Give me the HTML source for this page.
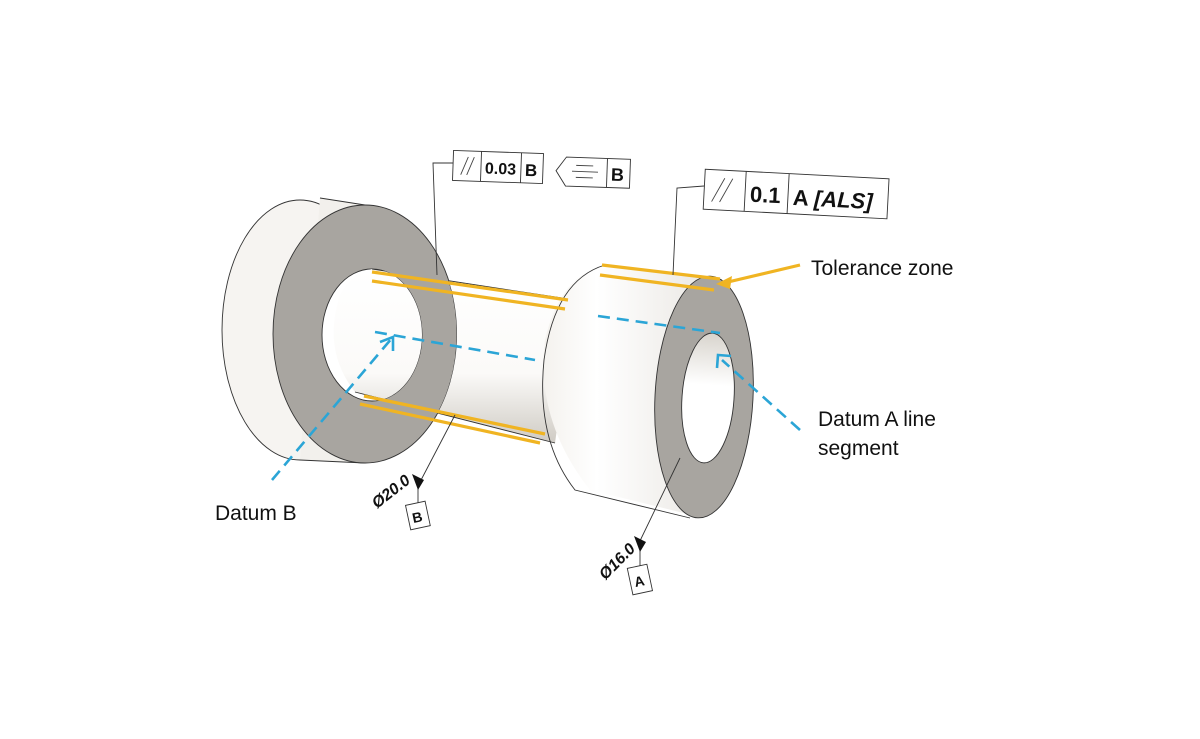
<!DOCTYPE html>
<html><head><meta charset="utf-8"><style>
body{margin:0;background:#fff;}
svg{display:block;}
text{font-family:"Liberation Sans",Arial,sans-serif;}
</style></head><body>
<svg width="1200" height="739" viewBox="0 0 1200 739" xmlns="http://www.w3.org/2000/svg">
<defs>
<linearGradient id="shaft" x1="0" y1="0" x2="0" y2="1">
<stop offset="0" stop-color="#fff"/><stop offset="0.6" stop-color="#fbfaf8"/><stop offset="1" stop-color="#cfcbc4"/>
</linearGradient>
<linearGradient id="cyl" x1="0" y1="0" x2="1" y2="0">
<stop offset="0" stop-color="#f4f2ee"/><stop offset="0.3" stop-color="#fff"/><stop offset="1" stop-color="#e8e5e0"/>
</linearGradient>
<linearGradient id="hole" x1="0" y1="0" x2="0" y2="1">
<stop offset="0" stop-color="#d8d4cd"/><stop offset="0.4" stop-color="#fff"/><stop offset="1" stop-color="#fff"/>
</linearGradient>
<mask id="ringmask" maskUnits="userSpaceOnUse" x="0" y="0" width="1200" height="739">
<rect x="0" y="0" width="1200" height="739" fill="#fff"/>
<ellipse cx="365" cy="334" rx="92" ry="129" fill="#000"/>
<ellipse cx="372" cy="335" rx="50" ry="66" fill="#fff"/>
</mask>
</defs>

<!-- Left flange -->
<ellipse cx="300" cy="330" rx="78" ry="130" fill="#f6f4f1" stroke="#333" stroke-width="0.9"/>
<path d="M320,198 L365,205 L365,463 L300,460 Z" fill="#f2f0ec"/>
<path d="M320,198 L365,205 M300,460 L365,463" stroke="#333" stroke-width="0.9"/>
<ellipse cx="365" cy="334" rx="92" ry="129" fill="#a8a5a0" stroke="#333" stroke-width="0.9"/>
<ellipse cx="372" cy="335" rx="50" ry="66" fill="#fff" stroke="#333" stroke-width="0.9"/>

<!-- Shaft -->
<g mask="url(#ringmask)">
<path d="M372,269 L575,300 L555,443 L355,392 Q322,350 340,295 Q352,272 372,269 Z" fill="url(#shaft)"/>
<path d="M372,269 L575,300" stroke="#333" stroke-width="0.9"/>
<path d="M355,392 L555,443" stroke="#333" stroke-width="0.9"/>
</g>

<!-- Right cylinder -->
<path d="M605,265 L722,280 L704,518 L590,490 Q535,420 545,340 Q560,275 605,265 Z" fill="url(#cyl)"/>
<path d="M605,265 Q555,280 544,360 Q536,440 575,490 L690,518" fill="none" stroke="#333" stroke-width="0.9"/>
<path d="M605,265 L722,280" stroke="#333" stroke-width="0.9"/>
<ellipse cx="704" cy="397" rx="49" ry="121" transform="rotate(3 704 397)" fill="#a8a5a0" stroke="#333" stroke-width="0.9"/>
<ellipse cx="708" cy="398" rx="26" ry="65" transform="rotate(4 708 398)" fill="url(#hole)" stroke="#333" stroke-width="0.9"/>

<!-- Tolerance zone yellow lines -->
<g stroke="#f0b422" stroke-width="3.2" fill="none">
<path d="M372,272 L568,300"/><path d="M372,281 L565,309"/>
<path d="M364,396 L545,434"/><path d="M360,404 L540,443"/>
<path d="M602,265 L720,279"/><path d="M600,275 L714,290"/>
<path d="M800,265 L728,282"/>
</g>
<path d="M716,284 L732,276 L730,289 Z" fill="#f0b422"/>

<!-- Blue dashed -->
<g stroke="#2ba5d6" stroke-width="2.6" fill="none" stroke-dasharray="12,7">
<path d="M375,332 L535,360"/>
<path d="M598,316 L720,333"/>
<path d="M272,480 L392,338"/>
<path d="M800,430 L722,360"/>
</g>
<g stroke="#2ba5d6" stroke-width="2.6" fill="none">
<path d="M380,342 L393,337 L393,351"/>
<path d="M717,368 L718,355 L731,356"/>
</g>

<!-- Leaders -->
<g stroke="#333" stroke-width="0.9" fill="none">
<path d="M453,163 L433,163 L437,275"/>
<path d="M704,186 L677,188 L673,275"/>
<path d="M455,415 L420,482"/>
<path d="M680,458 L638,545"/>
<path d="M418,488 L418,505"/>
<path d="M640,550 L640,567"/>
</g>
<path d="M412,474 L424,480 L418,490 Z" fill="#111"/>
<path d="M634,536 L646,542 L640,552 Z" fill="#111"/>

<!-- Feature control frame 1 -->
<g transform="rotate(2 498 167)">
<rect x="453" y="152" width="90" height="30" fill="#fff" stroke="#333" stroke-width="0.9"/>
<path d="M481,152 V182 M521,152 V182" stroke="#333" stroke-width="0.9"/>
<path d="M461,176 L468,158 M467,176 L474,158" stroke="#444" stroke-width="0.9"/>
<text x="485" y="174" font-size="16" font-weight="bold" fill="#111">0.03</text>
<text x="525" y="175" font-size="17" font-weight="bold" fill="#111">B</text>
</g>
<g transform="rotate(2 594 172)">
<path d="M566,158 L630,158 L630,187 L566,187 L556,172 Z" fill="#fff" stroke="#333" stroke-width="0.9"/>
<path d="M607,158 V187" stroke="#333" stroke-width="0.9"/>
<path d="M576,166 H593 M572,172 H598 M576,178 H593" stroke="#444" stroke-width="0.9"/>
<text x="611" y="180" font-size="18" font-weight="bold" fill="#111">B</text>
</g>

<!-- Feature control frame 2 -->
<g transform="rotate(3 796 196)">
<rect x="704" y="174" width="184" height="40" fill="#fff" stroke="#333" stroke-width="0.9"/>
<path d="M745,174 V214 M788,174 V214" stroke="#333" stroke-width="0.9"/>
<path d="M712,206 L724,182 M720,206 L732,182" stroke="#444" stroke-width="0.9"/>
<text x="750" y="204" font-size="22" font-weight="bold" fill="#111">0.1</text>
<text x="793" y="205" font-size="22" font-weight="bold" fill="#111">A <tspan font-style="italic">[ALS]</tspan></text>
</g>

<!-- Dimensions -->
<g transform="rotate(-38 390 490)">
<text x="368" y="497" font-size="16" font-style="italic" font-weight="bold" fill="#111">Ø20.0</text>
</g>
<g transform="rotate(-45 616 560)">
<text x="594" y="567" font-size="16" font-style="italic" font-weight="bold" fill="#111">Ø16.0</text>
</g>
<g transform="rotate(-12 418 516)">
<rect x="408" y="503" width="20" height="25" fill="#fff" stroke="#333" stroke-width="0.9"/>
<text x="412" y="522" font-size="14" font-weight="bold" fill="#111">B</text>
</g>
<g transform="rotate(-12 640 580)">
<rect x="630" y="566" width="20" height="27" fill="#fff" stroke="#333" stroke-width="0.9"/>
<text x="634" y="586" font-size="14" font-weight="bold" fill="#111">A</text>
</g>

<!-- Labels -->
<text x="811" y="275" font-size="21" fill="#111">Tolerance zone</text>
<text x="818" y="426" font-size="21" fill="#111">Datum A line</text>
<text x="818" y="455" font-size="21" fill="#111">segment</text>
<text x="215" y="520" font-size="21" fill="#111">Datum B</text>
</svg>
</body></html>
